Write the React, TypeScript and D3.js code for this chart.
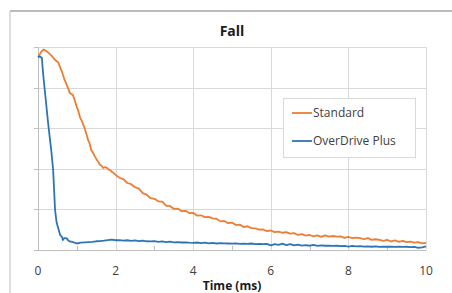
import React, { useEffect, useRef } from "react";
import * as d3 from "d3";

// Fall response, normalised brightness (%) vs time (ms)
const standardTimes = [
  0, 0.05, 0.1, 0.15, 0.2, 0.28, 0.36, 0.44, 0.52, 0.58, 0.62, 0.68, 0.72, 0.78, 0.82, 0.86, 0.9, 0.95,
  1.0, 1.04, 1.08, 1.12, 1.16, 1.2, 1.25, 1.29, 1.33, 1.37, 1.42, 1.47, 1.52, 1.56, 1.6, 1.64, 1.68,
  1.73, 1.78, 1.82, 1.86, 1.9, 1.95,
  2.0, 2.1, 2.2, 2.3, 2.4, 2.5, 2.6, 2.7, 2.8, 2.9, 3.0, 3.1, 3.2, 3.3, 3.4, 3.5, 3.6, 3.7, 3.8, 3.9,
  4.0, 4.1, 4.2, 4.3, 4.4, 4.5, 4.6, 4.7, 4.8, 4.9, 5.0, 5.1, 5.2, 5.3, 5.4, 5.5, 5.6, 5.7, 5.8, 5.9,
  6.0, 6.1, 6.2, 6.3, 6.4, 6.5, 6.6, 6.7, 6.8, 6.9, 7.0, 7.1, 7.2, 7.3, 7.4, 7.5, 7.6, 7.7, 7.8, 7.9,
  8.0, 8.1, 8.2, 8.3, 8.4, 8.5, 8.6, 8.7, 8.8, 8.9, 9.0, 9.1, 9.2, 9.3, 9.4, 9.5, 9.6, 9.7, 9.8, 9.9, 10.0,
];
const standardLevels = [
  95, 96.5, 98, 98.8, 98.2, 97, 95.5, 93.6, 92.5, 89.5, 87.7, 84, 82.3, 79.5, 77.3, 76.8, 76.4, 73.5,
  70.4, 68.5, 65.5, 64, 62, 60.1, 57, 54.2, 52.5, 49.3, 47.8, 46, 44.3, 43.2, 41.9, 41.5, 40.4,
  40.8, 40.4, 39.6, 39.4, 38.5, 37.9,
  37.0, 35.6, 34.9, 33.0, 32.4, 30.9, 30.2, 28.0, 27.3, 25.5, 25.2, 24.0, 23.8, 21.8, 21.7, 20.3, 20.4, 19.1, 19.3, 18.2,
  18.3, 16.9, 17.1, 16.2, 16.3, 15.6, 15.4, 14.1, 14.3, 13.2, 13.5, 12.3, 12.5, 11.3, 11.7, 10.8, 10.7, 10.0, 10.1, 9.3,
  9.6, 8.8, 9.1, 8.5, 8.8, 8.1, 8.3, 7.4, 7.8, 7.1, 7.4, 6.7, 7.2, 6.5, 7.2, 6.6, 6.9, 6.6, 6.7, 6.0,
  6.5, 5.8, 6.1, 5.9, 5.3, 5.9, 5.0, 5.3, 5.0, 4.5, 5.0, 4.2, 4.7, 4.0, 4.5, 3.9, 4.1, 3.6, 3.9, 3.3, 3.5,
];

const overdriveTimes = [
  0, 0.05, 0.1, 0.13, 0.2, 0.26, 0.34, 0.39, 0.44, 0.48, 0.52, 0.57, 0.62, 0.64, 0.67, 0.7, 0.75, 0.77,
  0.8, 0.9, 1.0, 1.1, 1.2, 1.3, 1.4, 1.5, 1.6, 1.7, 1.8, 1.9, 2.0, 2.1, 2.2, 2.3, 2.4, 2.5, 2.6, 2.7, 2.8, 2.9,
  3.0, 3.1, 3.2, 3.3, 3.4, 3.5, 3.6, 3.7, 3.8, 3.9, 4.0, 4.1, 4.2, 4.3, 4.4, 4.5, 4.6, 4.7, 4.8, 4.9,
  5.0, 5.1, 5.2, 5.3, 5.4, 5.5, 5.6, 5.7, 5.8, 5.9, 6.0, 6.1, 6.2, 6.3, 6.4, 6.5, 6.6, 6.7, 6.8, 6.9,
  7.0, 7.1, 7.2, 7.3, 7.4, 7.5, 7.6, 7.7, 7.8, 7.9, 8.0, 8.1, 8.2, 8.3, 8.4, 8.5, 8.6, 8.7, 8.8, 8.9,
  9.0, 9.1, 9.2, 9.3, 9.4, 9.5, 9.6, 9.7, 9.8, 9.9, 10.0,
];
const overdriveLevels = [
  95.1, 95.3, 94.6, 87.2, 74, 62.6, 49.3, 39.4, 19.7, 13.5, 10.8, 7.4, 6.4, 4.9, 5.7, 5.9, 5.6, 4.9,
  4.4, 3.9, 3.2, 3.6, 3.8, 3.9, 4.0, 4.3, 4.4, 4.6, 4.9, 5.1, 4.8, 4.9, 4.6, 4.8, 4.5, 4.7, 4.4, 4.6, 4.3, 4.2,
  4.4, 4.0, 4.2, 3.9, 4.1, 3.8, 3.9, 3.7, 3.8, 3.6, 3.5, 3.7, 3.4, 3.6, 3.3, 3.5, 3.2, 3.4, 3.3, 3.2,
  3.1, 3.3, 3.0, 3.1, 3.0, 3.2, 2.9, 3.0, 2.9, 3.0, 2.3, 2.9, 2.5, 3.1, 2.4, 2.9, 2.3, 2.6, 2.2, 2.4,
  2.1, 2.5, 2.0, 2.3, 2.1, 2.2, 2.0, 2.1, 1.9, 2.0, 1.7, 2.0, 1.8, 1.9, 1.7, 1.8, 1.6, 1.8, 1.5, 1.7,
  1.6, 1.7, 1.5, 1.6, 1.5, 1.6, 1.4, 1.5, 1.1, 1.3, 1.8,
];

const xTicks = [0, 2, 4, 6, 8, 10];
const xMinorTicks = [1, 3, 5, 7, 9];
const yTicks = [0, 20, 40, 60, 80, 100];

const seriesNames = ["Standard", "OverDrive Plus"];
const seriesColors = ["#ed7d31", "#2e75b6"];

const W = 452;
const H = 293;
const FONT = "'Open Sans', 'Liberation Sans', sans-serif";

export default function App() {
  const svgRef = useRef<SVGSVGElement>(null);

  useEffect(() => {
    const svg = d3.select(svgRef.current);
    svg.selectAll("*").remove();

    const x = d3.scaleLinear().domain([0, 10]).range([38, 426]);
    const y = d3.scaleLinear().domain([0, 100]).range([250, 47]);

    svg.append("rect").attr("width", W).attr("height", H).attr("fill", "#fff");

    // outer chart frame (cropped)
    svg.append("line").attr("x1", 10).attr("x2", W).attr("y1", 11).attr("y2", 11)
      .attr("stroke", "#a6a6a6").attr("stroke-width", 1.5);
    svg.append("line").attr("x1", 10).attr("x2", 10).attr("y1", 11).attr("y2", H)
      .attr("stroke", "#bdbdbd").attr("stroke-width", 1);

    // grid
    const grid = svg.append("g").attr("stroke", "#d9d9d9").attr("stroke-width", 1);
    grid.selectAll("line.h")
      .data(yTicks.filter((d) => d > 0))
      .enter()
      .append("line")
      .attr("x1", x(0)).attr("x2", x(10))
      .attr("y1", (d) => Math.round(y(d)) + 0.5).attr("y2", (d) => Math.round(y(d)) + 0.5);
    grid.selectAll("line.v")
      .data(xTicks.filter((d) => d > 0))
      .enter()
      .append("line")
      .attr("y1", y(0)).attr("y2", y(100))
      .attr("x1", (d) => Math.round(x(d)) + 0.5).attr("x2", (d) => Math.round(x(d)) + 0.5);

    // axes lines and ticks
    const axes = svg.append("g").attr("stroke", "#bfbfbf").attr("stroke-width", 1);
    axes.append("line").attr("x1", x(0)).attr("x2", x(10))
      .attr("y1", Math.round(y(0)) + 0.5).attr("y2", Math.round(y(0)) + 0.5);
    axes.append("line").attr("x1", Math.round(x(0)) + 0.5).attr("x2", Math.round(x(0)) + 0.5)
      .attr("y1", y(0)).attr("y2", y(100));
    axes.selectAll("line.yt")
      .data(yTicks)
      .enter()
      .append("line")
      .attr("x1", x(0) - 4).attr("x2", x(0))
      .attr("y1", (d) => Math.round(y(d)) + 0.5).attr("y2", (d) => Math.round(y(d)) + 0.5);
    axes.selectAll("line.xt")
      .data(xMinorTicks)
      .enter()
      .append("line")
      .attr("x1", (d) => Math.round(x(d)) + 0.5).attr("x2", (d) => Math.round(x(d)) + 0.5)
      .attr("y1", y(0) - 4).attr("y2", y(0));

    // x tick labels
    svg.append("g")
      .selectAll("text")
      .data(xTicks)
      .enter()
      .append("text")
      .attr("x", (d) => x(d))
      .attr("y", 275)
      .attr("text-anchor", "middle")
      .attr("font-family", FONT)
      .attr("font-size", 12)
      .attr("fill", "#404040")
      .text((d) => d);

    // series
    const line = d3.line<[number, number]>()
      .x((d) => x(d[0]))
      .y((d) => y(d[1]));
    const series: [number, number][][] = [
      standardTimes.map((t, i) => [t, standardLevels[i]]),
      overdriveTimes.map((t, i) => [t, overdriveLevels[i]]),
    ];
    svg.append("g")
      .selectAll("path")
      .data(series)
      .enter()
      .append("path")
      .attr("d", (d) => line(d))
      .attr("fill", "none")
      .attr("stroke", (_, i) => seriesColors[i])
      .attr("stroke-width", 1.8)
      .attr("stroke-linejoin", "round");

    // title and axis title
    svg.append("text").attr("x", 232).attr("y", 36).attr("text-anchor", "middle")
      .attr("font-family", FONT).attr("font-size", 14).attr("font-weight", "bold")
      .attr("fill", "#1a1a1a").text("Fall");
    svg.append("text").attr("x", 232).attr("y", 289.5).attr("text-anchor", "middle")
      .attr("font-family", FONT).attr("font-size", 12).attr("font-weight", "bold")
      .attr("fill", "#1a1a1a").text("Time (ms)");

    // legend
    const legend = svg.append("g");
    legend.append("rect").attr("x", 283.5).attr("y", 98.5).attr("width", 132).attr("height", 59)
      .attr("fill", "#fff").attr("stroke", "#d9d9d9");
    const items = legend.selectAll("g.item")
      .data(seriesNames)
      .enter()
      .append("g")
      .attr("transform", (_, i) => `translate(0, ${113 + i * 28})`);
    items.append("line").attr("x1", 292).attr("x2", 312).attr("y1", 0).attr("y2", 0)
      .attr("stroke", (_, i) => seriesColors[i]).attr("stroke-width", 1.8);
    items.append("text").attr("x", 313).attr("y", 4).attr("font-family", FONT)
      .attr("font-size", 12).attr("fill", "#404040").text((d) => d);
  }, []);

  return (
    <svg
      ref={svgRef}
      width={W}
      height={H}
      style={{ position: "fixed", left: 0, top: 0, display: "block" }}
    />
  );
}
